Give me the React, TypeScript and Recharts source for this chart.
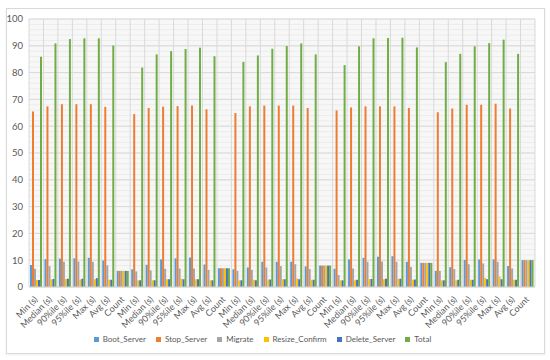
import { BarChart, Bar, XAxis, YAxis, CartesianGrid, Legend } from 'recharts'

const METRICAS = ['Min (s)', 'Median (s)', '90%ile (s)', '95%ile (s)', 'Max (s)', 'Avg (s)', 'Count']
const GRUPOS = 5
const categorias = Array.from({ length: GRUPOS }, () => METRICAS).flat()

const bootServer = [
  8.2, 10.4, 10.6, 10.7, 10.9, 9.9, 6,
  6.6, 8.3, 10.3, 10.7, 11.0, 8.4, 7,
  6.6, 7.3, 9.4, 9.4, 9.4, 7.7, 8,
  6.8, 10.3, 10.9, 11.3, 11.5, 9.4, 9,
  6.0, 7.4, 10.1, 10.3, 10.3, 7.8, 10,
]
const stopServer = [
  65.5, 67.4, 68.2, 68.2, 68.2, 67.2, 6,
  64.5, 66.8, 67.3, 67.5, 67.7, 66.3, 7,
  64.9, 67.4, 67.7, 67.7, 67.7, 66.8, 8,
  65.9, 67.0, 67.4, 67.4, 67.4, 66.8, 9,
  65.2, 66.6, 68.0, 68.0, 68.4, 66.6, 10,
]
const migrate = [
  6.8, 7.8, 9.4, 9.5, 9.4, 8.1, 6,
  5.8, 6.2, 6.8, 6.9, 6.9, 6.4, 7,
  6.0, 6.4, 7.3, 7.8, 8.5, 6.7, 8,
  4.5, 6.9, 9.4, 9.5, 9.4, 7.5, 9,
  6.0, 6.7, 8.5, 8.8, 9.4, 6.9, 10,
]
const resizeConfirm = [
  2.6, 2.8, 3.0, 2.8, 2.9, 2.7, 6,
  2.5, 2.5, 2.9, 3.1, 2.9, 2.5, 7,
  2.5, 2.7, 2.8, 2.9, 3.2, 2.7, 8,
  2.5, 2.5, 3.0, 2.9, 3.1, 2.7, 9,
  2.5, 2.5, 2.7, 3.4, 3.9, 2.7, 10,
]
const deleteServer = [
  2.6, 3.0, 3.1, 3.1, 3.3, 2.7, 6,
  2.5, 2.5, 2.9, 2.9, 2.9, 2.5, 7,
  2.5, 2.5, 2.8, 2.9, 2.9, 2.7, 8,
  2.5, 2.7, 3.0, 3.1, 3.1, 2.8, 9,
  2.5, 2.7, 2.7, 2.9, 2.9, 2.7, 10,
]
const total = [
  85.9, 90.9, 92.5, 92.8, 92.8, 90.1, 6,
  81.9, 86.8, 88.0, 88.8, 89.3, 86.1, 7,
  84.0, 86.4, 88.9, 89.9, 90.9, 86.8, 8,
  82.8, 89.8, 92.8, 92.9, 93.0, 89.4, 9,
  83.9, 87.0, 89.8, 91.0, 92.3, 87.0, 10,
]

const yTicks = [0, 10, 20, 30, 40, 50, 60, 70, 80, 90, 100]

const SERIES = [
  { key: 'Boot_Server', color: '#5b9bd5' },
  { key: 'Stop_Server', color: '#ed7d31' },
  { key: 'Migrate', color: '#a5a5a5' },
  { key: 'Resize_Confirm', color: '#ffc000' },
  { key: 'Delete_Server', color: '#4472c4' },
  { key: 'Total', color: '#70ad47' },
]

const data = categorias.map((name, i) => ({
  name,
  Boot_Server: bootServer[i],
  Stop_Server: stopServer[i],
  Migrate: migrate[i],
  Resize_Confirm: resizeConfirm[i],
  Delete_Server: deleteServer[i],
  Total: total[i],
}))

const FUENTE = 'Lato, "Open Sans", sans-serif'
const GRIS_TEXTO = '#595959'

function TickRotado({ x, y, payload }: any) {
  return (
    <text
      x={x + 2}
      y={y + 5}
      textAnchor="end"
      fontSize={9}
      fontFamily={FUENTE}
      fill={GRIS_TEXTO}
      transform={`rotate(-45, ${x + 2}, ${y + 5})`}
    >
      {payload.value}
    </text>
  )
}

export default function App() {
  const n = categorias.length
  return (
    <div style={{ position: 'absolute', left: 0, top: 0, width: 550, height: 360, background: '#fff' }}>
      <div
        style={{
          position: 'absolute',
          left: 6,
          top: 8,
          width: 537,
          height: 344,
          border: '1px solid #d9d9d9',
          boxShadow: '0 1px 2px rgba(0,0,0,0.08)',
        }}
      />
      <div style={{ position: 'absolute', left: 0, top: 0 }}>
        <BarChart
          width={550}
          height={360}
          data={data}
          margin={{ top: 19, right: 15, left: 0, bottom: 6 }}
          barCategoryGap={1}
          barGap={0}
        >
          <CartesianGrid
            vertical={false}
            fill="#f7f7f7"
            stroke="#ececec"
            horizontalCoordinatesGenerator={({ offset }: any) =>
              Array.from({ length: 51 }, (_, k) => offset.top + (offset.height * k) / 50)
            }
          />
          <CartesianGrid
            stroke="#d9d9d9"
            verticalCoordinatesGenerator={({ offset }: any) =>
              Array.from({ length: n + 1 }, (_, k) => offset.left + (offset.width * k) / n)
            }
          />
          <XAxis
            dataKey="name"
            interval={0}
            height={47}
            tickLine={false}
            axisLine={{ stroke: '#d9d9d9' }}
            tick={<TickRotado />}
          />
          <YAxis
            domain={[0, 100]}
            ticks={yTicks}
            width={29}
            tickLine={false}
            axisLine={false}
            tickMargin={0}
            tick={{ fontSize: 9.5, fill: GRIS_TEXTO, fontFamily: FUENTE }}
          />
          <Legend
            verticalAlign="bottom"
            height={20}
            iconType="square"
            iconSize={5}
            itemSorter={(item: any) => SERIES.findIndex((s) => s.key === item.dataKey)}
            wrapperStyle={{ fontSize: 8, fontFamily: FUENTE, color: GRIS_TEXTO }}
            formatter={(value) => <span style={{ color: GRIS_TEXTO }}>{value}</span>}
          />
          {SERIES.map((s) => (
            <Bar key={s.key} dataKey={s.key} fill={s.color} isAnimationActive={false} />
          ))}
        </BarChart>
      </div>
    </div>
  )
}
